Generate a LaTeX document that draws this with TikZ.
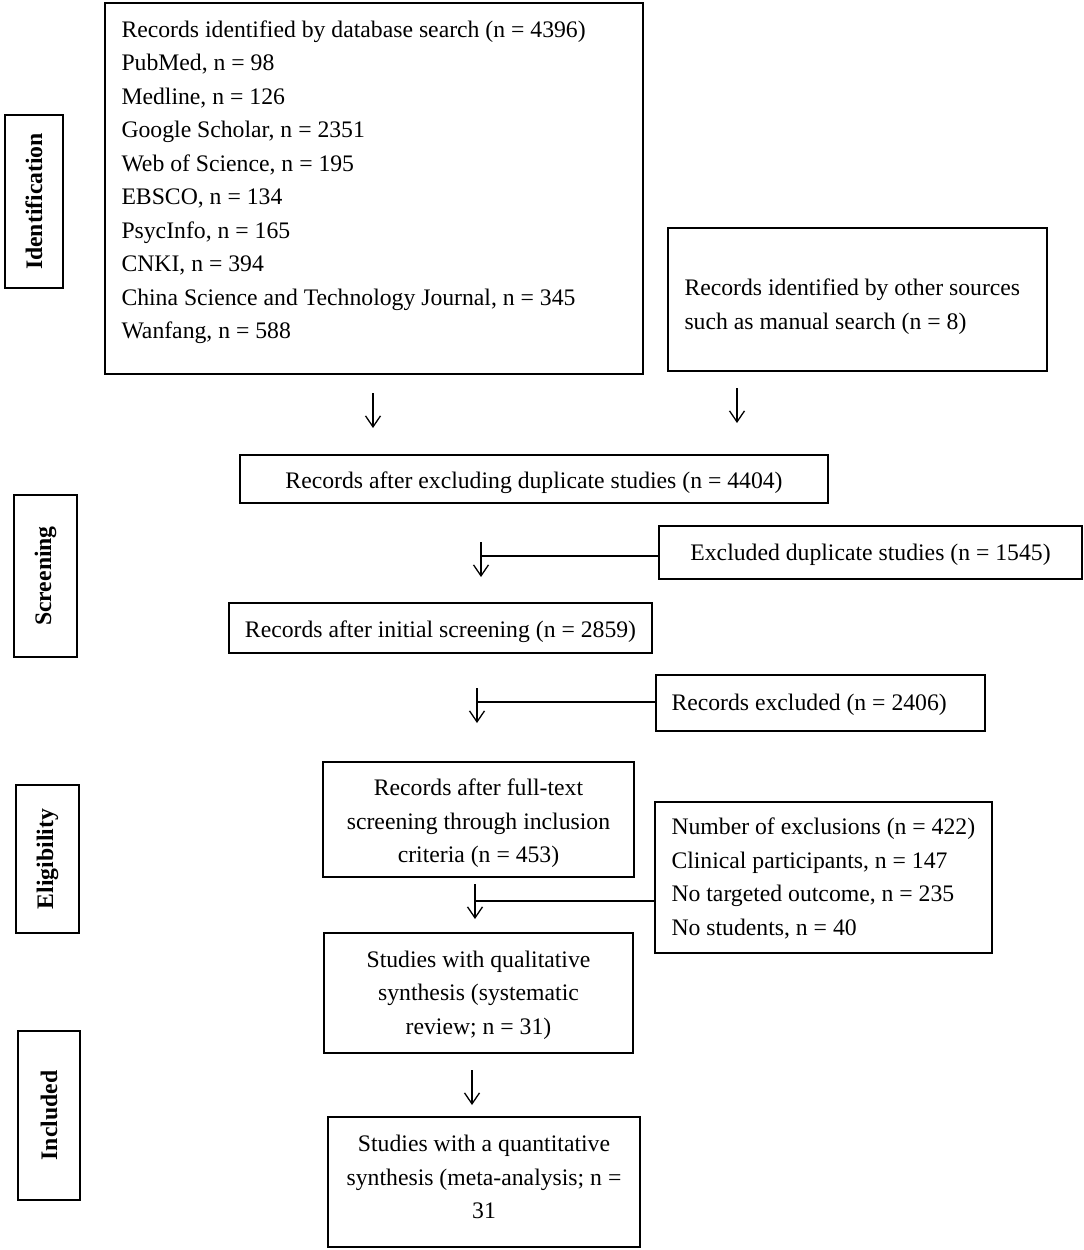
\documentclass[tikz,border=0pt]{standalone}
\usepackage{fontspec}
\setmainfont{Liberation Serif}
\usetikzlibrary{arrows.meta}
\tikzset{
    box/.style={draw, line width=1.4pt, inner sep=0pt},
    boxtext/.style={inner sep=0pt},
    stagebox/.style={draw, line width=2.2pt, inner sep=0pt, rotate=90,
        font=\fontsize{23.7}{28}\selectfont\bfseries},
    arr/.style={line width=1.3pt, -{Straight Barb[length=11pt, width=15pt, line width=1.3pt]}},
    link/.style={line width=1.3pt}
}
\newcommand{\shortarrow}[3]{
    \coordinate (#1top) at (#2, #3);
    \coordinate (#1end) at (#2, #3+35);
    \draw[arr] (#1top) -- (#1end);
}

\begin{document}
\begin{tikzpicture}[x=1pt, y=-1pt, font=\fontsize{23.7}{33.5}\selectfont]
    \useasboundingbox (0,0) rectangle (1084,1250);

    % stages
    \node[stagebox, minimum width=173, minimum height=58] (ident) at (34,201.5) {Identification};
    \node[stagebox, minimum width=162, minimum height=63] (screen) at (45.5,576) {Screening};
    \node[stagebox, minimum width=148, minimum height=63] (elig) at (47.5,859) {Eligibility};
    \node[stagebox, minimum width=169, minimum height=62] (incl) at (49,1115.5) {Included};

    % identification
    \node[box, minimum width=538, minimum height=371] (db) at (374,188.5) {};
    \node[boxtext, anchor=north west, align=left] (dbtext) at ([shift={(17,18)}]db.north west) {
        Records identified by database search (n = 4396)\\
        PubMed, n = 98\\
        Medline, n = 126\\
        Google Scholar, n = 2351\\
        Web of Science, n = 195\\
        EBSCO, n = 134\\
        PsycInfo, n = 165\\
        CNKI, n = 394\\
        China Science and Technology Journal, n = 345\\
        Wanfang, n = 588};
    \node[box, minimum width=379, minimum height=143] (other) at (857.5,299.5) {};
    \node[boxtext, anchor=west, align=left] (othertext) at ([shift={(17,7)}]other.west)
        {Records identified by other sources\\such as manual search (n = 8)};

    \shortarrow{a1}{373}{393}
    \shortarrow{a2}{737}{388}

    % screening
    \node[box, minimum width=588, minimum height=48] (nodup) at (534,479) {};
    \node[boxtext] (noduptext) at ([shift={(0,4)}]nodup.center)
        {Records after excluding duplicate studies (n = 4404)};
    \node[box, minimum width=423, minimum height=53] (exdup) at (870.5,552.5) {};
    \node[boxtext] (exduptext) at ([shift={(0,2)}]exdup.center)
        {Excluded duplicate studies (n = 1545)};
    \shortarrow{a3}{481}{542}
    \coordinate (j3) at (481,556);
    \draw[link] (exdup.west |- j3) -- (j3);

    \node[box, minimum width=423, minimum height=50] (initial) at (440.5,628) {};
    \node[boxtext] (initialtext) at ([shift={(0,4)}]initial.center)
        {Records after initial screening (n = 2859)};
    \node[box, minimum width=329, minimum height=56] (excl) at (820.5,703) {};
    \node[boxtext, anchor=west] (excltext) at ([shift={(16,2)}]excl.west)
        {Records excluded (n = 2406)};
    \shortarrow{a4}{477}{688}
    \coordinate (j4) at (477,702);
    \draw[link] (excl.west |- j4) -- (j4);

    % eligibility
    \node[box, minimum width=311, minimum height=115] (fulltext) at (478.5,819.5) {};
    \node[boxtext, align=center] (fulltexttext) at ([shift={(0,4)}]fulltext.center)
        {Records after full-text\\screening through inclusion\\criteria (n = 453)};
    \node[box, minimum width=337, minimum height=151] (reasons) at (823.5,877.5) {};
    \node[boxtext, anchor=west, align=left] (reasonstext) at ([shift={(17,1)}]reasons.west)
        {Number of exclusions (n = 422)\\
         Clinical participants, n = 147\\
         No targeted outcome, n = 235\\
         No students, n = 40};
    \shortarrow{a5}{475}{884}
    \coordinate (j5) at (475,901);
    \draw[link] (reasons.west |- j5) -- (j5);

    % included
    \node[box, minimum width=309, minimum height=120] (qual) at (478.5,993) {};
    \node[boxtext, align=center] (qualtext) at ([shift={(0,2)}]qual.center)
        {Studies with qualitative\\synthesis (systematic\\review; n = 31)};
    \shortarrow{a6}{472}{1070}
    \node[box, minimum width=312, minimum height=130] (quant) at (484,1182) {};
    \node[boxtext, align=center] (quanttext) at ([shift={(0,-5)}]quant.center)
        {Studies with a quantitative\\synthesis (meta-analysis; n =\\31};
\end{tikzpicture}
\end{document}
